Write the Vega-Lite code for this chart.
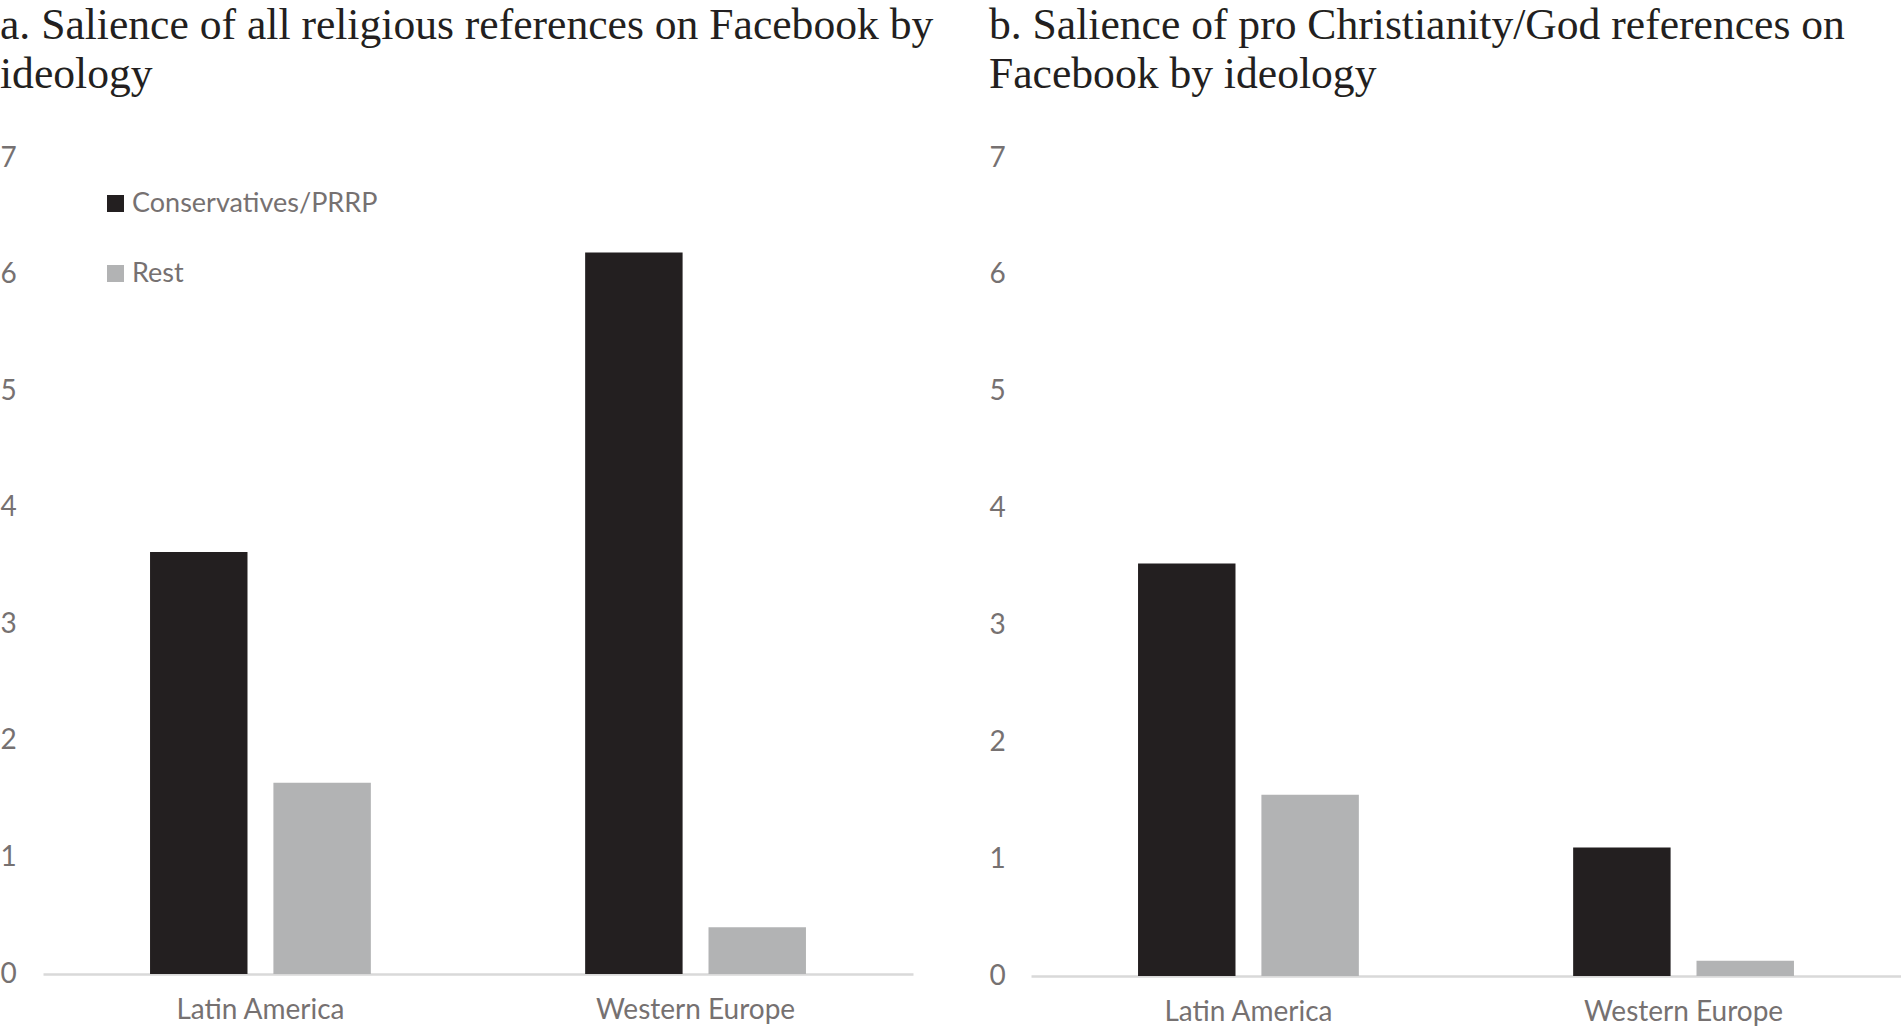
{
  "$schema": "https://vega.github.io/schema/vega-lite/v6.json",
  "background": "white",
  "padding": {"left": 0, "top": 4, "right": 0, "bottom": 0},
  "data": {"values": [
    {"panel": "a", "region": "Latin America", "group": "Conservatives/PRRP", "value": 3.62},
    {"panel": "a", "region": "Latin America", "group": "Rest", "value": 1.64},
    {"panel": "a", "region": "Western Europe", "group": "Conservatives/PRRP", "value": 6.19},
    {"panel": "a", "region": "Western Europe", "group": "Rest", "value": 0.40},
    {"panel": "b", "region": "Latin America", "group": "Conservatives/PRRP", "value": 3.53},
    {"panel": "b", "region": "Latin America", "group": "Rest", "value": 1.55},
    {"panel": "b", "region": "Western Europe", "group": "Conservatives/PRRP", "value": 1.10},
    {"panel": "b", "region": "Western Europe", "group": "Rest", "value": 0.13}
  ]},
  "config": {
    "view": {"stroke": null},
    "font": "Lato",
    "title": {"font": "Liberation Serif", "fontSize": 43.6, "fontWeight": "normal", "color": "#231f20", "anchor": "start", "frame": "bounds", "lineHeight": 49, "offset": 46},
    "axis": {"labelFont": "Lato", "labelFontSize": 28, "labelColor": "#767171", "ticks": false, "grid": false, "labelLimit": 0},
    "legend": {"labelFont": "Lato", "labelFontSize": 27, "labelColor": "#767171", "labelLimit": 0},
    "concat": {"spacing": 55}
  },
  "resolve": {"scale": {"color": "independent"}, "legend": {"color": "independent"}},
  "hconcat": [
    {
      "width": 870,
      "height": 816,
      "title": {"text": ["a. Salience of all religious references on Facebook by", "ideology"]},
      "transform": [{"filter": "datum.panel == 'a'"}],
      "mark": {"type": "bar"},
      "encoding": {
        "x": {"field": "region", "type": "nominal", "sort": ["Latin America", "Western Europe"], "scale": {"paddingInner": 0.4925, "paddingOuter": 0.246}, "axis": {"title": null, "labelAngle": 0, "domainColor": "#d9d9d9", "domainWidth": 2.5, "labelPadding": 22, "labelLimit": 0}},
        "xOffset": {"field": "group", "type": "nominal", "sort": ["Conservatives/PRRP", "Rest"], "scale": {"paddingInner": 0.21, "paddingOuter": 0}},
        "y": {"field": "value", "type": "quantitative", "scale": {"domain": [0, 7], "nice": false}, "axis": {"title": null, "values": [0, 1, 2, 3, 4, 5, 6, 7], "domain": false, "labelAlign": "left", "labelPadding": 43}},
        "color": {"field": "group", "type": "nominal", "sort": ["Conservatives/PRRP", "Rest"], "scale": {"domain": ["Conservatives/PRRP", "Rest"], "range": ["#231f20", "#b2b3b4"]}, "legend": {"title": null, "orient": "none", "legendX": 59, "legendY": 32, "symbolType": "square", "symbolSize": 289, "symbolStrokeWidth": 0, "labelOffset": 3, "rowPadding": 42, "labelLimit": 0}}
      }
    },
    {
      "width": 870,
      "height": 818,
      "title": {"text": ["b. Salience of pro Christianity/God references on", "Facebook by ideology"]},
      "transform": [{"filter": "datum.panel == 'b'"}],
      "mark": {"type": "bar"},
      "encoding": {
        "x": {"field": "region", "type": "nominal", "sort": ["Latin America", "Western Europe"], "scale": {"paddingInner": 0.4925, "paddingOuter": 0.246}, "axis": {"title": null, "labelAngle": 0, "domainColor": "#d9d9d9", "domainWidth": 2.5, "labelPadding": 22, "labelLimit": 0}},
        "xOffset": {"field": "group", "type": "nominal", "sort": ["Conservatives/PRRP", "Rest"], "scale": {"paddingInner": 0.21, "paddingOuter": 0}},
        "y": {"field": "value", "type": "quantitative", "scale": {"domain": [0, 7], "nice": false}, "axis": {"title": null, "values": [0, 1, 2, 3, 4, 5, 6, 7], "domain": false, "labelAlign": "left", "labelPadding": 42}},
        "color": {"field": "group", "type": "nominal", "sort": ["Conservatives/PRRP", "Rest"], "scale": {"domain": ["Conservatives/PRRP", "Rest"], "range": ["#231f20", "#b2b3b4"]}, "legend": null}
      }
    }
  ]
}
